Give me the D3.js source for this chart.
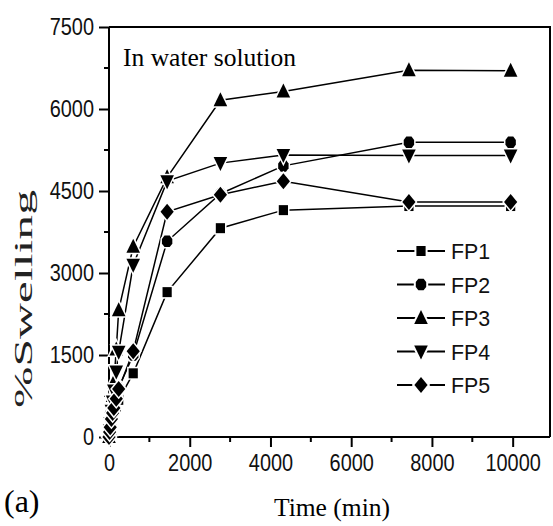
<!DOCTYPE html>
<html>
<head>
<meta charset="utf-8">
<script src="https://cdn.jsdelivr.net/npm/d3@7"></script>
<style>
  body { margin: 0; background: #fff; }
  svg { display: block; }
</style>
</head>
<body>
<svg id="chart" width="553" height="526"></svg>
<script>
// time points (min)
const times = [0, 15, 30, 60, 90, 120, 180, 240, 600, 1440, 2760, 4320, 7430, 9950];
const fp1 = [0, 80, 160, 280, 380, 450, 560, 680, 1165, 2650, 3820, 4150, 4225, 4225];
const fp2 = [0, 100, 200, 380, 500, 620, 780, 900, 1500, 3580, 4450, 4960, 5390, 5390];
const fp3 = [0, 150, 300, 550, 750, 1000, 1600, 2320, 3480, 4750, 6160, 6320, 6710, 6700];
const fp4 = [0, 120, 250, 480, 650, 850, 1200, 1560, 3150, 4680, 5010, 5160, 5150, 5150];
const fp5 = [0, 90, 180, 330, 440, 530, 700, 880, 1570, 4120, 4430, 4680, 4300, 4300];
const seriesNames = ["FP1", "FP2", "FP3", "FP4", "FP5"];
const markerTypes = ["square", "hexagon", "triangleUp", "triangleDown", "diamond"];
const xTicks = [0, 2000, 4000, 6000, 8000, 10000];
const yTicks = [0, 1500, 3000, 4500, 6000, 7500];

const series = [fp1, fp2, fp3, fp4, fp5].map((vals, i) => ({
  name: seriesNames[i],
  marker: markerTypes[i],
  points: vals.map((v, j) => ({ t: times[j], v: v }))
}));

const svg = d3.select("#chart");
const x = d3.scaleLinear().domain([0, 10925]).range([109, 550]);
const y = d3.scaleLinear().domain([0, 7500]).range([437, 27]);

function markerPath(type) {
  switch (type) {
    case "square": return "M-4.6,-5 L4.6,-5 L4.6,5 L-4.6,5 Z";
    case "hexagon": return "M-2.6,-5.8 L2.6,-5.8 L5.2,-2.4 L5.2,2.4 L2.6,5.8 L-2.6,5.8 L-5.2,2.4 L-5.2,-2.4 Z";
    case "triangleUp": return "M0,-8 L6.8,6 L-6.8,6 Z";
    case "triangleDown": return "M0,8 L6.8,-6 L-6.8,-6 Z";
    case "diamond": return "M0,-8 L6.6,0 L0,8 L-6.6,0 Z";
  }
}

const tickFont = "'Liberation Sans', Arial, sans-serif";
const squeeze = 0.83;

// x axis
const gx = svg.append("g").attr("transform", `translate(0,${y(0)})`);
gx.call(d3.axisBottom(x).tickValues(xTicks).tickSize(10).tickPadding(6).tickFormat(d3.format("d")));
gx.append("g").selectAll("line")
  .data([1000, 3000, 5000, 7000, 9000])
  .join("line")
  .attr("x1", (d) => x(d)).attr("x2", (d) => x(d))
  .attr("y1", 0).attr("y2", 5);

// y axis
const gy = svg.append("g").attr("transform", `translate(${x(0)},0)`);
gy.call(d3.axisLeft(y).tickValues(yTicks).tickSize(10).tickPadding(5).tickFormat(d3.format("d")));
gy.append("g").selectAll("line")
  .data([750, 2250, 3750, 5250, 6750])
  .join("line")
  .attr("x1", 0).attr("x2", -5)
  .attr("y1", (d) => y(d)).attr("y2", (d) => y(d));

[gx, gy].forEach((g) => {
  g.select(".domain").attr("stroke", "#000").attr("stroke-width", 2);
  g.selectAll("line").attr("stroke", "#000").attr("stroke-width", 2);
  g.selectAll("text")
    .attr("font-family", tickFont)
    .attr("font-size", 24)
    .attr("fill", "#111");
});
gx.selectAll(".tick text").attr("transform", `scale(${squeeze},1)`).attr("dy", "0.74em");
gy.selectAll(".tick text")
  .attr("x", -15 / squeeze)
  .attr("transform", `scale(${squeeze},1)`);
gy.select(".domain").attr("d", `M0,${y(7500)}V${y(0)}`);
gx.select(".domain").attr("d", `M${x(0)},0H550`);

// frame top and right
svg.append("path")
  .attr("d", `M${x(0)},${y(7500)}H550V${y(0)}`)
  .attr("fill", "none")
  .attr("stroke", "#000")
  .attr("stroke-width", 2);

// lines
const line = d3.line().x((d) => x(d.t)).y((d) => y(d.v));
svg.append("g").selectAll("path")
  .data(series)
  .join("path")
  .attr("d", (s) => line(s.points))
  .attr("fill", "none")
  .attr("stroke", "#000")
  .attr("stroke-width", 1.5);

// markers with white halo
svg.append("g").selectAll("g")
  .data(series)
  .join("g")
  .selectAll("path")
  .data((s) => s.points.map((p) => ({ ...p, marker: s.marker })))
  .join("path")
  .attr("transform", (d) => `translate(${x(d.t)},${y(d.v)})`)
  .attr("d", (d) => markerPath(d.marker))
  .attr("fill", "#000")
  .attr("stroke", "#fff")
  .attr("stroke-width", 3)
  .attr("paint-order", "stroke");

// legend
const legend = svg.append("g");
const legendY = d3.scaleLinear().domain([0, 4]).range([251, 385]);
const rows = legend.selectAll("g")
  .data(series)
  .join("g")
  .attr("transform", (d, i) => `translate(0,${legendY(i)})`);
rows.append("line")
  .attr("x1", 397).attr("x2", 445)
  .attr("stroke", "#000").attr("stroke-width", 1.8);
rows.append("path")
  .attr("transform", "translate(421,0)")
  .attr("d", (d) => markerPath(d.marker))
  .attr("fill", "#000")
  .attr("stroke", "#fff")
  .attr("stroke-width", 4)
  .attr("paint-order", "stroke");
rows.append("text")
  .attr("x", 451 / 0.93)
  .attr("y", 8)
  .attr("transform", "scale(0.93,1)")
  .attr("font-family", tickFont)
  .attr("font-size", 23)
  .attr("fill", "#111")
  .text((d) => d.name);

// texts
const serif = "'Liberation Serif', 'Times New Roman', serif";
svg.append("text")
  .attr("x", 123).attr("y", 66)
  .attr("font-family", serif).attr("font-size", 25)
  .attr("textLength", 173).attr("lengthAdjust", "spacingAndGlyphs")
  .text("In water solution");

svg.append("text")
  .attr("transform", "translate(32,408) rotate(-90)")
  .attr("font-family", serif).attr("font-size", 26)
  .attr("fill", "#222")
  .attr("textLength", 218).attr("lengthAdjust", "spacingAndGlyphs")
  .text("%Swelling");

svg.append("text")
  .attr("x", 332).attr("y", 516)
  .attr("text-anchor", "middle")
  .attr("font-family", serif).attr("font-size", 25)
  .attr("textLength", 116).attr("lengthAdjust", "spacingAndGlyphs")
  .text("Time (min)");

svg.append("text")
  .attr("x", 4).attr("y", 512)
  .attr("font-family", serif).attr("font-size", 32)
  .text("(a)");
</script>
</body>
</html>
